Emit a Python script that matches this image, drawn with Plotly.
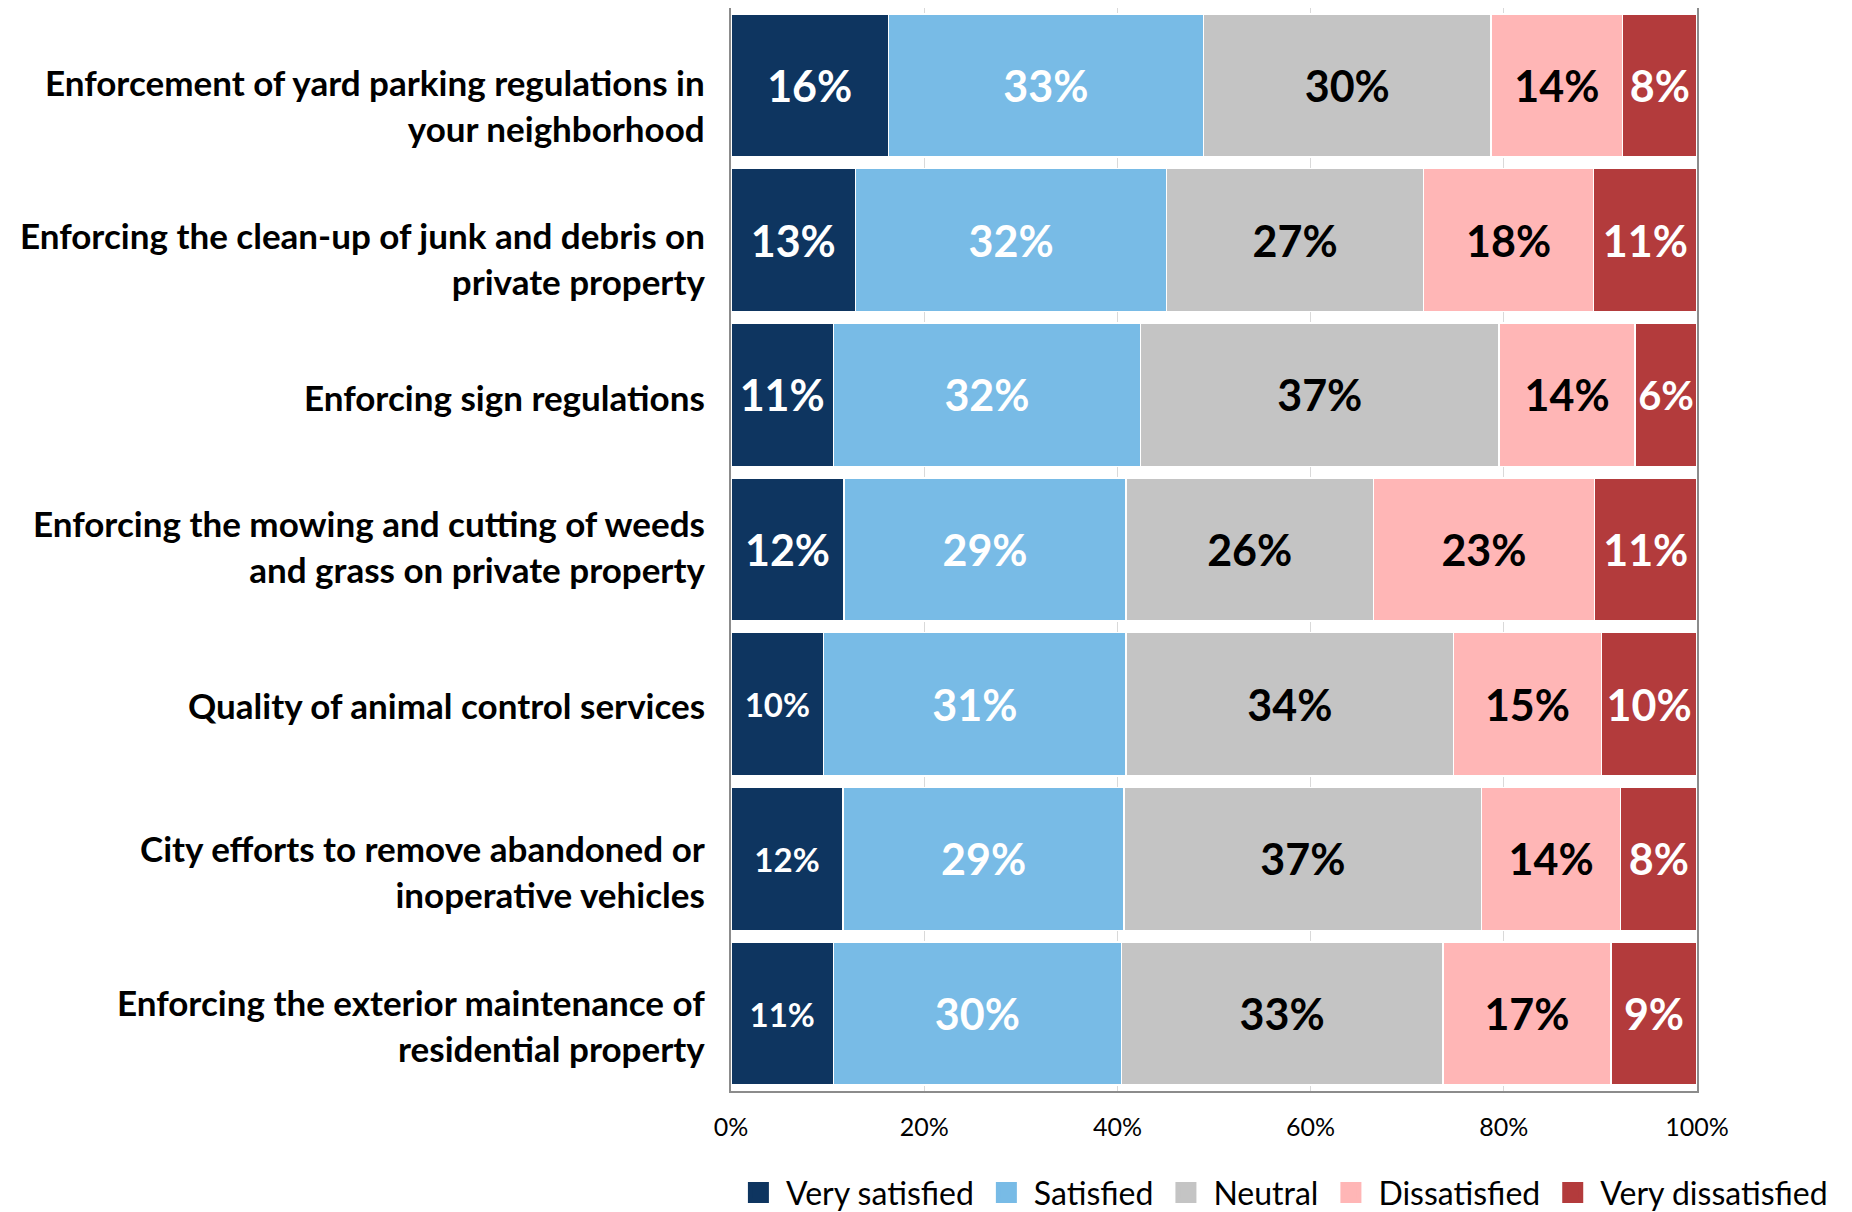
import plotly.graph_objects as go

categories = [
    "Enforcement of yard parking regulations in<br>your neighborhood",
    "Enforcing the clean-up of junk and debris on<br>private property",
    "Enforcing sign regulations",
    "Enforcing the mowing and cutting of weeds<br>and grass on private property",
    "Quality of animal control services",
    "City efforts to remove abandoned or<br>inoperative vehicles",
    "Enforcing the exterior maintenance of<br>residential property",
]

very_satisfied = [16.3, 12.9, 10.6, 11.7, 9.6, 11.6, 10.6]
satisfied = [32.6, 32.2, 31.8, 29.2, 31.3, 29.1, 29.8]
neutral = [29.8, 26.6, 37.1, 25.6, 33.9, 37.0, 33.3]
dissatisfied = [13.6, 17.6, 14.1, 22.9, 15.3, 14.4, 17.4]
very_dissatisfied = [7.7, 10.7, 6.4, 10.6, 9.9, 7.9, 8.9]

series_names = ["Very satisfied", "Satisfied", "Neutral", "Dissatisfied", "Very dissatisfied"]
series_values = [very_satisfied, satisfied, neutral, dissatisfied, very_dissatisfied]
series_colors = ["#0E3560", "#78BBE6", "#C4C4C4", "#FFB6B6", "#B33B3C"]
text_colors = ["white", "white", "black", "black", "white"]

x_tick_vals = [0, 20, 40, 60, 80, 100]
x_tick_text = ["0%", "20%", "40%", "60%", "80%", "100%"]

# styling: vertical nudge (px, downward) of each category label as in the original
label_nudge = [20, 18, 2, -4, 1, 12, 11]

FONT = "Lato"
BIG = 43
SMALL = 33
first_col_sizes = [BIG, BIG, BIG, BIG, SMALL, SMALL, SMALL]

fig = go.Figure()
for i, (name, vals, col, tcol) in enumerate(zip(series_names, series_values, series_colors, text_colors)):
    sizes = first_col_sizes if i == 0 else [BIG] * len(vals)
    fig.add_trace(go.Bar(
        y=categories, x=vals, name=name, orientation="h",
        marker=dict(color=col, line=dict(color="white", width=1.5)),
        texttemplate="%{x:.0f}%", textposition="inside", insidetextanchor="middle",
        textangle=0,
        textfont=dict(family=FONT, size=sizes, color=tcol, weight="bold"),
        showlegend=False, hoverinfo="skip",
    ))
    fig.add_trace(go.Scatter(
        x=[None], y=[None], mode="markers", name=name,
        marker=dict(symbol="square", size=16, color=col, line=dict(color=col, width=5)),
        showlegend=True, hoverinfo="skip",
    ))

for cat, nudge in zip(categories, label_nudge):
    fig.add_annotation(
        x=0, xref="paper", y=cat, yref="y", text=cat, showarrow=False,
        xanchor="right", yanchor="middle", align="right",
        xshift=-24, yshift=-nudge,
        font=dict(family=FONT, size=35, color="black", weight="bold"),
    )

fig.update_layout(
    barmode="stack",
    bargap=0.075,
    width=1852, height=1212,
    margin=dict(l=723, r=163, t=0, b=129, pad=0, autoexpand=False),
    plot_bgcolor="white", paper_bgcolor="white",
    font=dict(family=FONT, color="black"),
    legend=dict(
        orientation="h", x=-0.0001, xanchor="left", y=-0.094, yanchor="middle",
        font=dict(family=FONT, size=32, color="black"),
        itemsizing="trace", traceorder="normal", itemwidth=45,
    ),
)
fig.update_xaxes(
    range=[0, 100], tickvals=x_tick_vals, ticktext=x_tick_text,
    showgrid=True, gridcolor="#D9D9D9", gridwidth=1,
    showline=True, linecolor="#8C8C8C", linewidth=1.5, mirror=True,
    ticks="", tickfont=dict(family=FONT, size=25, color="black"),
    ticklabelstandoff=13, zeroline=False, fixedrange=True,
)
fig.update_yaxes(
    autorange="reversed", showticklabels=False,
    showline=True, linecolor="#8C8C8C", linewidth=1.5, mirror=True,
    ticks="", showgrid=False, fixedrange=True,
)

fig.write_html("out.html")
